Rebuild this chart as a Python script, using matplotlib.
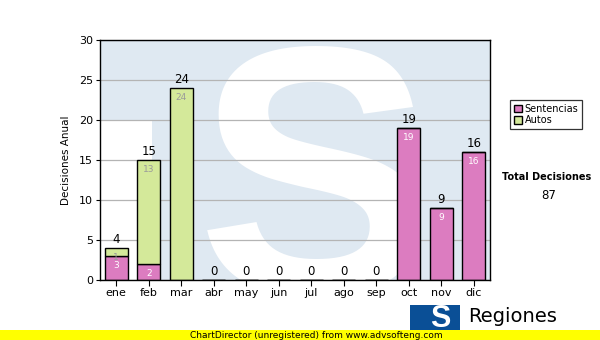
import matplotlib
matplotlib.use("Agg")
import matplotlib.pyplot as plt
import numpy as np
from matplotlib.patches import Rectangle

months = ["ene", "feb", "mar", "abr", "may", "jun", "jul", "ago", "sep", "oct", "nov", "dic"]
sentencias = [3, 2, 0, 0, 0, 0, 0, 0, 0, 19, 9, 16]
autos = [1, 13, 24, 0, 0, 0, 0, 0, 0, 0, 0, 0]
total_label = "Total Decisiones"

pink = "#dc7cc0"
green = "#d4e99a"
wm_blue = "#dfe9f2"

plt.rcParams['font.family'] = ['DejaVu Sans']
fig = plt.figure(figsize=(6, 3.4), dpi=100)
ax = fig.add_axes([100/600, 60/340, 390/600, 240/340])
ax.set_xlim(-0.5, 11.5)
ax.set_ylim(0, 30)

# watermark background
ax.add_patch(Rectangle((0, 0), 1, 1, transform=ax.transAxes, color=wm_blue, zorder=0, lw=0))
ax.add_patch(Rectangle((0, 0), 52/390, 160/240, transform=ax.transAxes, color="white", zorder=0.1, lw=0))
ax.text(0.55, -0.06, "S", transform=ax.transAxes, fontsize=255, fontweight="bold",
        family="Liberation Sans", color="white", ha="center", va="baseline", zorder=0.2, clip_on=True)

ax.yaxis.grid(True, color="#b4b4b4", lw=0.9, zorder=1)
ax.set_axisbelow(True)

x = np.arange(len(months))
s = np.array(sentencias)
a = np.array(autos)
w = 0.72
ax.bar(x, s, w, color=pink, edgecolor="black", lw=1, zorder=2, label="Sentencias")
ax.bar(x, a, w, bottom=s, color=green, edgecolor="black", lw=1, zorder=2, label="Autos")

for i in range(len(months)):
    tot = s[i] + a[i]
    ax.text(x[i], tot + 0.25, str(tot), ha="center", va="bottom", fontsize=8.5, color="black", zorder=3)
    if s[i] > 0:
        ax.text(x[i], s[i] - 0.6, str(s[i]), ha="center", va="top", fontsize=6.5, color="white", zorder=3)
    if a[i] > 0:
        ax.text(x[i], tot - 0.6, str(a[i]), ha="center", va="top", fontsize=6.5, color="#9a9a9a", zorder=3)

ax.set_xticks(x)
ax.set_xticklabels(months, fontsize=8)
ax.set_yticks(range(0, 31, 5))
ax.tick_params(axis="y", labelsize=8, length=3, width=0.8, pad=2)
ax.tick_params(axis="x", length=4, width=0.8, pad=2)
ax.set_ylabel("Decisiones Anual", fontsize=7.5, labelpad=6)
for sp in ax.spines.values():
    sp.set_color("black")
    sp.set_linewidth(1)

leg = fig.legend(loc="upper left", bbox_to_anchor=(510/600, 1 - 100/340), fontsize=7,
                 frameon=True, fancybox=False, edgecolor="black", handlelength=0.8,
                 handleheight=0.8, handletextpad=0.3, borderpad=0.4, labelspacing=0.15,
                 borderaxespad=0)
leg.get_frame().set_linewidth(0.9)

fig.text(547/600, 1 - 177/340, total_label, ha="center", va="center", fontsize=7, fontweight="bold")
fig.text(549/600, 1 - 196/340, str(int(s.sum() + a.sum())), ha="center", va="center", fontsize=8.5)

# logo bottom right
fig.patches.append(Rectangle((410/600, 0), 50/600, 35/340, transform=fig.transFigure,
                             color="#0a4f96", zorder=1, lw=0))
fig.text(440/600, 6/340, "S", ha="center", va="bottom", fontsize=22, fontweight="bold",
         color="white", family="Liberation Sans", zorder=2)
fig.text(468/600, 1 - 316/340, "Regiones", ha="left", va="center", fontsize=14, zorder=2)

# yellow banner
fig.patches.append(Rectangle((0, 0), 1, 10/340, transform=fig.transFigure,
                             color="#ffff00", zorder=5, lw=0))
fig.text(190/600, 5/340, "ChartDirector (unregistered) from www.advsofteng.com",
         ha="left", va="center", fontsize=6.5, zorder=6)

fig.savefig("out.png", dpi=100)
